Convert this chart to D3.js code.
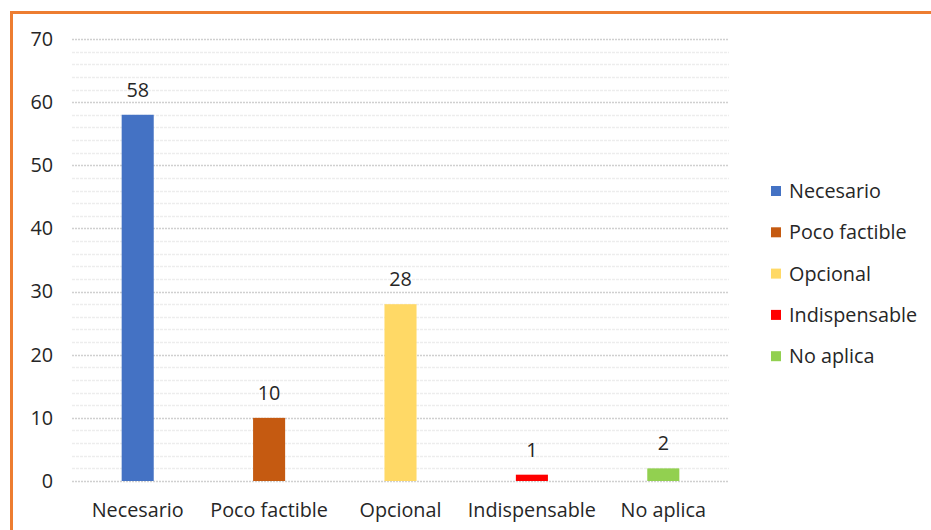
<!DOCTYPE html>
<html><head><meta charset="utf-8">
<script src="https://cdn.jsdelivr.net/npm/d3@7"></script>
<style>
html,body{margin:0;padding:0;background:#fff;}
svg{display:block;}
text{font-family:"Open Sans","Noto Sans",sans-serif;fill:#262626;}
</style></head>
<body>
<svg id="c" width="931" height="530"></svg>
<script>
const categories = ["Necesario","Poco factible","Opcional","Indispensable","No aplica"];
const values = [58,10,28,1,2];
const colors = ["#4472C4","#C55A11","#FFD966","#FF0000","#92D050"];
const yTicks = [0,10,20,30,40,50,60,70];

const FS = 19.8;
const svg = d3.select("#c");
// orange frame
svg.append("path").attr("d","M11.5,530 L11.5,12.5 L931,12.5")
  .attr("fill","none").attr("stroke","#ED7D31").attr("stroke-width",3);

const x0 = 72, x1 = 729, yTop = 39, yBot = 481;
const x = d3.scaleBand().domain(categories).range([x0,x1]).paddingInner(0.756).paddingOuter(0.378);
const y = d3.scaleLinear().domain([0,70]).range([yBot,yTop]);

// minor gridlines
const minor = d3.range(0,71,2).filter(v=>v%10!==0);
svg.append("g").selectAll("line").data(minor).join("line")
  .attr("x1",x0).attr("x2",x1).attr("y1",d=>Math.round(y(d))+0.5).attr("y2",d=>Math.round(y(d))+0.5)
  .attr("stroke","#ededed").attr("stroke-width",1.5).attr("stroke-dasharray","3,1");
// major gridlines
svg.append("g").selectAll("line").data(yTicks).join("line")
  .attr("x1",x0).attr("x2",x1).attr("y1",d=>Math.round(y(d))+0.5).attr("y2",d=>Math.round(y(d))+0.5)
  .attr("stroke","#d0d0d0").attr("stroke-width",1.5).attr("stroke-dasharray","2,1");

// y axis labels
const yAxis = d3.axisLeft(y).tickValues(yTicks).tickSize(0).tickPadding(0);
const ga = svg.append("g").attr("transform","translate(53,0)").call(yAxis);
ga.select(".domain").remove();
ga.selectAll("text").attr("font-size",FS).attr("font-family","'Open Sans',sans-serif").attr("fill","#262626");

// bars
svg.append("g").selectAll("rect").data(values).join("rect")
  .attr("x",(d,i)=>x(categories[i])).attr("width",x.bandwidth())
  .attr("y",d=>y(d)).attr("height",d=>yBot-y(d))
  .attr("fill",(d,i)=>colors[i]);

// value labels
svg.append("g").selectAll("text").data(values).join("text")
  .attr("x",(d,i)=>x(categories[i])+x.bandwidth()/2).attr("y",d=>y(d)-18)
  .attr("text-anchor","middle").attr("font-size",FS).text(d=>d);

// x axis labels
const xAxis = d3.axisBottom(x).tickSize(0).tickPadding(0);
const gx = svg.append("g").attr("transform","translate(0,503)").call(xAxis);
gx.select(".domain").remove();
gx.selectAll("text").attr("font-size",FS).attr("font-family","'Open Sans',sans-serif").attr("fill","#262626");

// legend
const lg = svg.append("g");
categories.forEach((c,i)=>{
  const cy = 191 + i*41.3;
  lg.append("rect").attr("x",771).attr("y",cy-5).attr("width",10).attr("height",10).attr("fill",colors[i]);
  lg.append("text").attr("x",789).attr("y",cy).attr("dy","0.35em").attr("font-size",FS).text(c);
});
</script>
</body></html>
